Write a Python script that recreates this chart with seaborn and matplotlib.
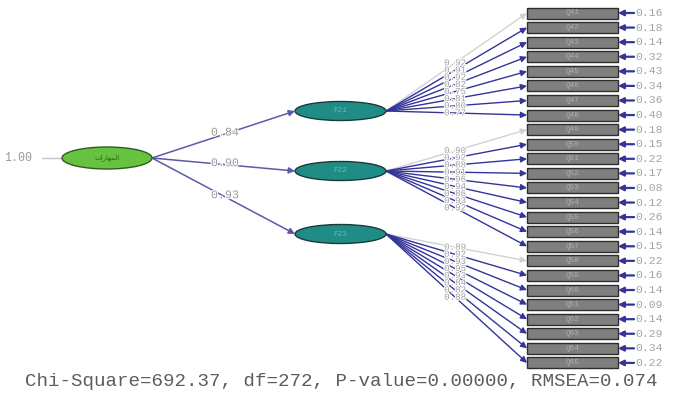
import matplotlib
matplotlib.use("Agg")
import matplotlib.pyplot as plt
from matplotlib.patches import Ellipse, Rectangle
import matplotlib.patheffects as pe
import seaborn as sns

# ---- model values ----
factor_names = ["F21", "F22", "F23"]
second_order_loadings = [0.84, 0.90, 0.93]
general_variance = 1.00

items_f21 = ["Q41", "Q42", "Q43", "Q44", "Q45", "Q46", "Q47", "Q48"]
items_f22 = ["Q49", "Q50", "Q51", "Q52", "Q53", "Q54", "Q55", "Q56", "Q57"]
items_f23 = ["Q58", "Q59", "Q60", "Q61", "Q62", "Q63", "Q64", "Q65"]

loadings_f21 = [0.92, 0.91, 0.92, 0.82, 0.75, 0.81, 0.80, 0.77]
loadings_f22 = [0.90, 0.92, 0.88, 0.91, 0.96, 0.94, 0.86, 0.93, 0.92]
loadings_f23 = [0.89, 0.92, 0.93, 0.95, 0.93, 0.84, 0.82, 0.88]

errors_f21 = [0.16, 0.18, 0.14, 0.32, 0.43, 0.34, 0.36, 0.40]
errors_f22 = [0.18, 0.15, 0.22, 0.17, 0.08, 0.12, 0.26, 0.14, 0.15]
errors_f23 = [0.22, 0.16, 0.14, 0.09, 0.14, 0.29, 0.34, 0.22]

fit_chi2 = 692.37
fit_df = 272
fit_p = 0.00000
fit_rmsea = 0.074

# general factor name (Arabic, given in presentation forms in visual order)
general_name = "\uFE95\uFE8D\uFEAD\uFE8E\uFEEC\uFEE4\uFEDF\uFE8D"

# ---- styling ----
sns.set_theme(style="white")
plt.rcParams["font.family"] = ["Liberation Mono", "DejaVu Sans Mono", "DejaVu Sans"]

W, H = 674, 393
fig = plt.figure(figsize=(W / 100, H / 100), dpi=100)
ax = fig.add_axes([0, 0, 1, 1])
ax.set_xlim(0, W)
ax.set_ylim(H, 0)
ax.axis("off")

path_col = "#34349a"
fixed_col = "#d2d2d2"
halo = [pe.withStroke(linewidth=1.5, foreground="white")]

# observed-variable column
box_x0, box_x1 = 527, 618
box_h = 11
top_y, pitch = 13.0, 14.58

groups = [
    (items_f21, loadings_f21, errors_f21),
    (items_f22, loadings_f22, errors_f22),
    (items_f23, loadings_f23, errors_f23),
]
factor_y = [111, 171, 234]
fx0, fx1 = 295, 386
gx, gy, gw, gh = 107, 158, 90, 22

row = 0
for (items, loads, errs), fy, fname in zip(groups, factor_y, factor_names):
    for k, (item, lam, err) in enumerate(zip(items, loads, errs)):
        by = top_y + row * pitch
        col = fixed_col if k == 0 else path_col
        ax.annotate("", xy=(box_x0, by), xytext=(fx1, fy),
                    arrowprops=dict(arrowstyle="-|>", color=col, lw=1.0,
                                    mutation_scale=9, shrinkA=0, shrinkB=0),
                    zorder=2)
        t = 0.49
        lx = fx1 + t * (box_x0 - fx1)
        ly = fy + t * (by - fy)
        ax.text(lx, ly, f"{lam:.2f}", fontsize=6.6, color="#a0a0a0",
                ha="center", va="center", path_effects=halo, zorder=4)
        ax.add_patch(Rectangle((box_x0, by - box_h / 2), box_x1 - box_x0, box_h,
                               facecolor="#7f7f7f", edgecolor="#2e2e2e",
                               lw=1.0, zorder=3))
        ax.text((box_x0 + box_x1) / 2, by, item, fontsize=5.5, color="#b0b0b0",
                ha="center", va="center", zorder=4)
        ax.annotate("", xy=(box_x1, by), xytext=(634, by),
                    arrowprops=dict(arrowstyle="-|>", color=path_col, lw=1.6,
                                    mutation_scale=8, shrinkA=0, shrinkB=0),
                    zorder=2)
        ax.text(635, by, f"{err:.2f}", fontsize=8.2, color="#a4a4a4",
                ha="left", va="center", zorder=4)
        row += 1

    ax.add_patch(Ellipse(((fx0 + fx1) / 2, fy), fx1 - fx0, 19,
                         facecolor="#1f8c86", edgecolor="#1c3a3a", lw=1.0, zorder=5))
    ax.text((fx0 + fx1) / 2, fy, fname, fontsize=5.5, color="#6fb8b4",
            ha="center", va="center", zorder=6)

# second-order paths
for fy, lam in zip(factor_y, second_order_loadings):
    ax.annotate("", xy=(fx0, fy), xytext=(gx + gw / 2, gy),
                arrowprops=dict(arrowstyle="-|>", color="#5a5aa8", lw=1.1,
                                mutation_scale=9, shrinkA=0, shrinkB=0),
                zorder=2)
    t = 0.51
    lx = gx + gw / 2 + t * (fx0 - gx - gw / 2)
    ly = gy + t * (fy - gy) - 1.5
    ax.text(lx, ly, f"{lam:.2f}", fontsize=8.4, color="#9a9a9a",
            ha="center", va="center", path_effects=halo, zorder=4)

# general factor
ax.plot([42, gx - gw / 2], [gy, gy], color="#c4c4c4", lw=1.0, zorder=2)
ax.text(4, gy, f"{general_variance:.2f}", fontsize=8.4, color="#9a9a9a",
        ha="left", va="center")
ax.add_patch(Ellipse((gx, gy), gw, gh, facecolor="#66c23f", edgecolor="#2f5a22",
                     lw=1.0, zorder=5))
ax.text(gx, gy, general_name, fontsize=5, color="#2c6a1c", ha="center",
        va="center", zorder=6, family=["DejaVu Sans"])

# fit statistics
ax.text(341, 382,
        f"Chi-Square={fit_chi2:.2f}, df={fit_df}, P-value={fit_p:.5f}, RMSEA={fit_rmsea:.3f}",
        fontsize=13.8, color="#5c5c5c", ha="center", va="center")

fig.savefig("out.png", dpi=100, facecolor="white")
